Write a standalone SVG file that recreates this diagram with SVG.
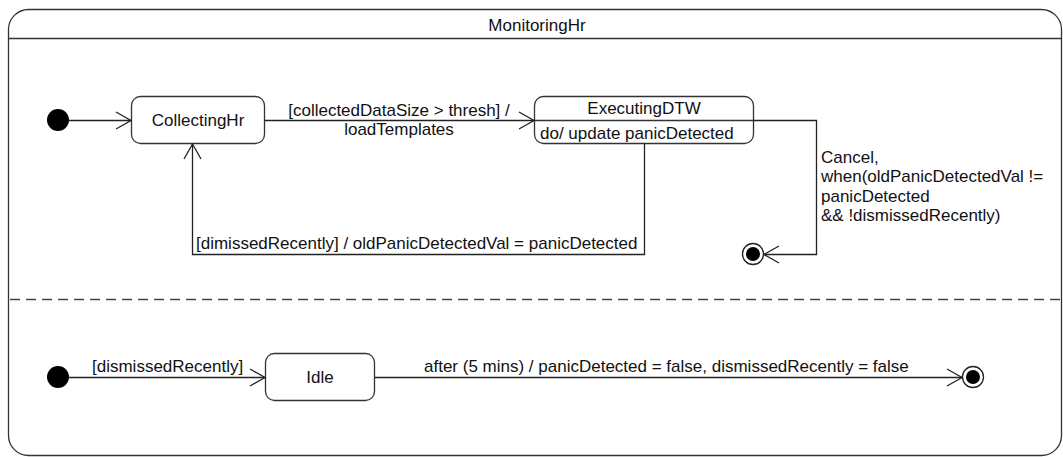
<svg xmlns="http://www.w3.org/2000/svg" width="1063" height="457" viewBox="0 0 1063 457">
<style>
text{font-family:"Liberation Sans",Arial,sans-serif;font-size:17px;fill:#111}
.st{fill:#fff;stroke:#333;stroke-width:1.3}
.ln{fill:none;stroke:#222;stroke-width:1.3}
.ah{fill:none;stroke:#222;stroke-width:1.3}
.ini{fill:#000}
</style>
<rect width="1063" height="457" fill="#fff"/>
<g id="MonitoringHr">
<rect class="st" x="8.5" y="9.5" width="1053" height="446" rx="20" ry="20" stroke="#444"/>
<line x1="8.5" y1="38.5" x2="1061.5" y2="38.5" stroke="#333" stroke-width="1.3"/>
<text x="537" y="31" text-anchor="middle">MonitoringHr</text>
<line x1="10" y1="299.5" x2="1061" y2="299.5" stroke="#444" stroke-width="1.3" stroke-dasharray="10,6"/>
</g>
<g id="init1"><circle class="ini" cx="58" cy="120" r="11"/></g>
<g id="CollectingHr">
<rect class="st" x="131.5" y="96.5" width="133" height="47" rx="9"/>
<text x="198" y="126" text-anchor="middle">CollectingHr</text>
</g>
<g id="ExecutingDTW">
<rect class="st" x="534.5" y="96.5" width="219" height="47" rx="9"/>
<line x1="534.5" y1="120.5" x2="753.5" y2="120.5" stroke="#333" stroke-width="1.3"/>
<text x="644" y="114" text-anchor="middle">ExecutingDTW</text>
<text x="540" y="139">do/ update panicDetected</text>
</g>
<g id="final1">
<circle cx="753" cy="254" r="10.5" fill="#fff" stroke="#222" stroke-width="1.3"/>
<circle cx="753" cy="254" r="7" fill="#000"/>
</g>
<g id="init2"><circle class="ini" cx="58" cy="377" r="11"/></g>
<g id="Idle">
<rect class="st" x="265.5" y="353.5" width="109" height="47" rx="9"/>
<text x="320" y="383" text-anchor="middle">Idle</text>
</g>
<g id="final2">
<circle cx="973" cy="377" r="10.5" fill="#fff" stroke="#222" stroke-width="1.3"/>
<circle cx="973" cy="377" r="7" fill="#000"/>
</g>
<g id="connectors">
<path class="ln" d="M69 120.5 H131"/>
<path class="ah" d="M116 112 L131 120.5 L116 129"/>
<path class="ln" d="M264.5 120.5 H534"/>
<path class="ah" d="M519 112 L534 120.5 L519 129"/>
<text x="399" y="116" text-anchor="middle">[collectedDataSize &gt; thresh] /</text>
<text x="399" y="135" text-anchor="middle">loadTemplates</text>
<path class="ln" d="M644.5 143.5 V254.5 H192.5 V144"/>
<path class="ah" d="M184 159 L192.5 144 L201 159"/>
<text x="196" y="249">[dimissedRecently] / oldPanicDetectedVal = panicDetected</text>
<path class="ln" d="M753.5 120.5 H816.5 V254.5 H764"/>
<path class="ah" d="M779 246 L764 254.5 L779 263"/>
<text x="821" y="163">Cancel,</text>
<text x="821" y="182">when(oldPanicDetectedVal !=</text>
<text x="821" y="202">panicDetected</text>
<text x="821" y="221">&amp;&amp; !dismissedRecently)</text>
<path class="ln" d="M69 377.5 H265"/>
<path class="ah" d="M250 369 L265 377.5 L250 386"/>
<text x="92" y="372">[dismissedRecently]</text>
<path class="ln" d="M374.5 377.5 H962"/>
<path class="ah" d="M947 369 L962 377.5 L947 386"/>
<text x="424" y="372">after (5 mins) / panicDetected = false, dismissedRecently = false</text>
</g>
</svg>
